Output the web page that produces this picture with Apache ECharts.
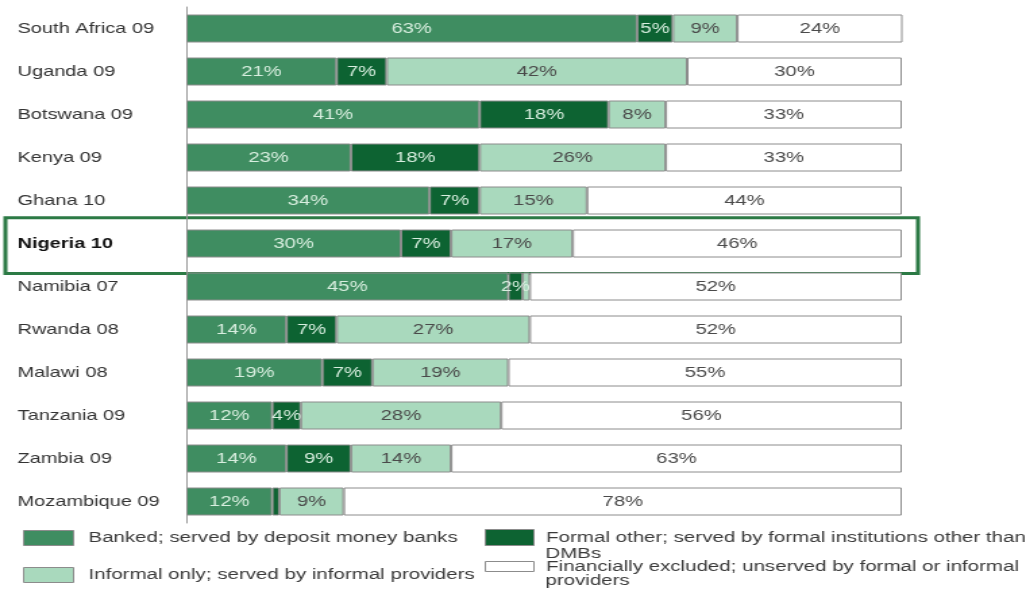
<!DOCTYPE html>
<html>
<head>
<meta charset="utf-8">
<script src="https://cdn.jsdelivr.net/npm/echarts@6/dist/echarts.min.js"></script>
<style>
  html, body { margin: 0; padding: 0; background: #fff; overflow: hidden; }
  /* the chart is laid out on a narrower canvas and widened, giving the broad lettering */
  #chart { width: 767px; height: 595px; transform: scaleX(1.35); transform-origin: 0 0; }
</style>
</head>
<body>
<div id="chart"></div>
<script>
// Access strand by country-survey year (% of adults)
const countries = ['South Africa 09', 'Uganda 09', 'Botswana 09', 'Kenya 09', 'Ghana 10', 'Nigeria 10',
  'Namibia 07', 'Rwanda 08', 'Malawi 08', 'Tanzania 09', 'Zambia 09', 'Mozambique 09'];
const banked      = [63, 21, 41, 23, 34, 30, 45, 14, 19, 12, 14, 12];
const formalOther = [5, 7, 18, 18, 7, 7, 2, 7, 7, 4, 9, 1];
const informal    = [9, 42, 8, 26, 15, 17, 1, 27, 19, 28, 14, 9];
const excluded    = [24, 30, 33, 33, 44, 46, 52, 52, 55, 56, 63, 78];
const highlighted = 'Nigeria 10';

const seriesNames = [
  'Banked; served by deposit money banks',
  'Formal other; served by formal institutions other than',
  'Informal only; served by informal providers',
  'Financially excluded; unserved by formal or informal'
];
// second lines of the two long legend entries
const legendTails = ['DMBs', 'providers'];
const seriesData = [banked, formalOther, informal, excluded];
const fills = ['#3f8d61', '#0d6332', '#a9d9bd', '#ffffff'];
const labelColors = ['#d8eedf', '#d8eedf', '#4a4a4a', '#4a4a4a'];
const FONT = 'Liberation Sans, Arial, sans-serif';
const LEGEND_SIZE = 15.2;
const LEGEND_COLOR = '#3a3a3a';

const chart = echarts.init(document.getElementById('chart'), null, { renderer: 'canvas' });

const series = seriesData.map((data, i) => ({
  name: seriesNames[i],
  type: 'bar',
  stack: 'total',
  barWidth: 28,
  data: data,
  itemStyle: { color: fills[i], borderColor: '#8c8c8c', borderWidth: 1 },
  label: {
    show: true,
    position: 'inside',
    color: labelColors[i],
    fontFamily: FONT,
    fontSize: 15,
    formatter: p => (p.value >= 2 ? p.value + '%' : '')
  },
  emphasis: { disabled: true }
}));

function legendFor(idx, left, top, w, h, gap) {
  return {
    data: [seriesNames[idx]], left: left, top: top, padding: 0,
    icon: 'rect', itemWidth: w, itemHeight: h, itemGap: 0,
    selectedMode: false,
    itemStyle: { borderColor: '#8c8c8c', borderWidth: 1 },
    textStyle: { color: LEGEND_COLOR, fontSize: LEGEND_SIZE, fontFamily: FONT, padding: [0, 0, 0, gap] }
  };
}

chart.setOption({
  animation: false,
  grid: { left: 138, right: 99, top: 7, bottom: 72 },
  xAxis: { type: 'value', min: 0, max: 100, show: false },
  yAxis: {
    type: 'category',
    data: countries,
    inverse: true,
    axisLine: { show: true, lineStyle: { color: '#999', width: 1 } },
    axisTick: { show: false },
    axisLabel: {
      align: 'left', margin: 125,
      fontFamily: FONT, fontSize: 14.8, color: '#333',
      formatter: v => (v === highlighted ? '{b|' + v + '}' : v),
      rich: { b: { fontWeight: 'bold', fontSize: 14.8, color: '#111', fontFamily: FONT } }
    }
  },
  legend: [
    legendFor(0, 17, 530, 37, 15, 6),
    legendFor(1, 359, 529, 36, 16, 4),
    legendFor(2, 17, 567, 37, 15, 6),
    legendFor(3, 359, 559, 36, 10, 4)
  ],
  series: series
});

// Outline box around the highlighted country's row, plus the wrapped legend lines
const idx = countries.indexOf(highlighted);
const yc = chart.convertToPixel({ yAxisIndex: 0 }, idx);
const band = Math.abs(chart.convertToPixel({ yAxisIndex: 0 }, idx + 1) - yc);
const tailStyle = (text, y) => ({
  type: 'text', x: 404, y: y, silent: true,
  style: { text: text, fill: LEGEND_COLOR, fontSize: LEGEND_SIZE, fontFamily: FONT, verticalAlign: 'middle' }
});
chart.setOption({
  graphic: [
    {
      type: 'rect',
      shape: { x: 4, y: yc - band * 0.6, width: 676, height: band * 1.3 },
      style: { fill: 'none', stroke: '#2c7a45', lineWidth: 3 },
      silent: true
    },
    tailStyle(legendTails[0], 554),
    tailStyle(legendTails[1], 581)
  ]
});
</script>
</body>
</html>
